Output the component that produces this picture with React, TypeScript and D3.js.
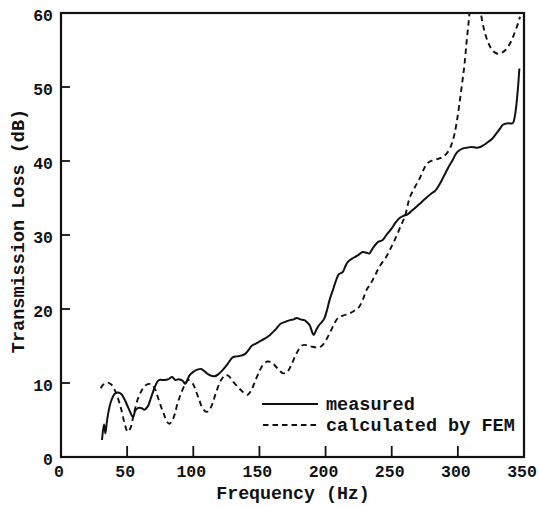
import React from "react";
import * as d3 from "d3";

const measuredFreq = [31, 32.5, 33.5, 34.5, 36, 38, 41, 45, 48, 51, 54.5, 56, 58, 61, 63, 65.5, 68, 71.5, 74, 78, 81, 84, 86.5, 89, 92, 94, 97, 100, 103, 106, 109, 112, 116, 119, 122, 126, 130, 133, 136, 139, 142, 144, 147, 150, 154, 158, 162, 166, 170, 173, 176, 178, 181, 184, 186, 188, 190, 191, 193, 195, 197, 199, 201, 203, 206, 208, 210, 213, 215, 217, 220, 224, 228, 231, 233, 236, 240, 243, 246, 250, 253, 256, 259, 262, 266, 271, 276, 280, 283, 286, 289, 293, 296, 298, 300, 304, 307, 310, 314, 317, 320, 323, 326, 329, 332, 334, 338, 341.5, 343, 344, 345.5, 346.5];
const measuredTL = [2.3, 4.4, 3.2, 4.5, 6.2, 7.6, 8.6, 8.6, 7.8, 6.6, 5.4, 6.2, 6.6, 6.6, 6.4, 6.8, 8.0, 9.7, 10.4, 10.4, 10.5, 10.8, 10.4, 10.5, 10.3, 9.9, 11.0, 11.5, 11.8, 11.9, 11.5, 11.1, 10.9, 11.2, 11.7, 12.6, 13.5, 13.6, 13.7, 13.9, 14.5, 15.0, 15.3, 15.6, 16.0, 16.5, 17.2, 18.0, 18.3, 18.5, 18.6, 18.8, 18.6, 18.5, 18.2, 17.8, 16.8, 16.5, 17.2, 17.8, 18.2, 18.7, 19.8, 21.2, 22.8, 23.9, 24.7, 25.0, 25.8, 26.4, 26.8, 27.2, 27.7, 27.6, 27.5, 28.3, 29.1, 29.3, 30.0, 30.9, 31.7, 32.3, 32.6, 32.8, 33.4, 34.2, 35.0, 35.6, 36.0, 36.8, 37.8, 39.2, 40.1, 40.8, 41.3, 41.7, 41.8, 41.9, 41.8, 41.9, 42.2, 42.6, 43.0, 43.7, 44.4, 44.9, 45.1, 45.1, 46, 47.2, 50, 52.5];

const calcFreq = [30, 32, 35, 38, 41, 45, 48, 50.5, 52.5, 55, 58, 61, 64, 68, 71, 73, 76, 78, 80, 82, 84, 86, 88, 91, 94, 96, 99.5, 102, 104.5, 107, 110, 112, 114.5, 117, 121, 124.5, 127, 130, 134, 137.5, 141, 143.5, 146, 149, 152.5, 156, 159, 162, 165, 168, 171, 174, 178, 182.5, 186, 190, 194, 197, 200, 203, 206, 209, 213, 218, 222, 225, 228, 231, 234, 237, 241, 246, 250, 253.5, 257, 260, 263.5, 267, 271, 274, 277, 281, 285, 288, 291, 294, 297, 299, 301, 303, 305, 306.5, 308, 309.5, 313, 316.5, 318.5, 320.5, 322.5, 324.5, 327, 330, 333, 336, 339.5, 342, 345.5, 347];
const calcTL = [9.3, 9.8, 10.05, 9.8, 8.9, 6.8, 4.6, 3.4, 3.9, 5.8, 7.8, 9.0, 9.7, 9.85, 9.2, 8.2, 6.6, 5.7, 4.8, 4.5, 4.9, 5.8, 7.2, 8.7, 9.9, 10.4, 9.95, 8.9, 7.7, 6.6, 6.1, 6.3, 7.2, 8.6, 10.4, 11.1, 10.9, 10.2, 9.4, 8.8, 8.4, 8.9, 9.9, 11.2, 12.4, 12.9, 12.8, 12.3, 11.7, 11.3, 11.5, 12.4, 14.0, 15.1, 15.1, 14.9, 14.8, 15.0, 15.7, 16.7, 17.8, 18.7, 19.1, 19.4, 19.8, 20.2, 21.2, 22.6, 23.4, 24.4, 25.8, 27.1, 28.5, 29.8, 31.3, 32.5, 35.0, 36.3, 37.6, 38.8, 39.7, 40.1, 40.3, 40.5, 40.9, 41.7, 43.3, 45.1, 47.5, 50.2, 53, 55.9, 58.5, 61, 64, 61, 58.8, 57.3, 56.2, 55.4, 54.8, 54.5, 54.6, 55.0, 55.9, 56.9, 58.6, 59.5];

const xTicks = [0, 50, 100, 150, 200, 250, 300, 350];
const yTicks = [0, 10, 20, 30, 40, 50, 60];
const legendLabels = ["measured", "calculated by FEM"];
const xTitle = "Frequency (Hz)";
const yTitle = "Transmission Loss (dB)";

const FONT = "'Liberation Mono', 'DejaVu Sans Mono', monospace";

export default function App() {
  const left = 61, right = 524, top = 13, bottom = 457;
  const x = d3.scaleLinear().domain([0, 350]).range([left, right]);
  const y = d3.scaleLinear().domain([0, 60]).range([bottom, top]);

  const line = d3
    .line<[number, number]>()
    .x((d) => x(d[0]))
    .y((d) => y(d[1]))
    .curve(d3.curveCatmullRom.alpha(0.5));

  const measured = measuredFreq.map((f, i) => [f, measuredTL[i]] as [number, number]);
  const calc = calcFreq.map((f, i) => [f, calcTL[i]] as [number, number]);

  return (
    <svg width={539} height={506} style={{ position: "absolute", left: 0, top: 0, background: "#fff" }}>
      <defs>
        <clipPath id="plot">
          <rect x={left} y={top} width={right - left} height={bottom - top} />
        </clipPath>
      </defs>
      <g clipPath="url(#plot)">
        <path d={line(calc) || ""} fill="none" stroke="#111" strokeWidth={1.9} strokeDasharray="5.5,4" />
        <path d={line(measured) || ""} fill="none" stroke="#111" strokeWidth={2} />
      </g>
      <rect x={left} y={top} width={right - left} height={bottom - top} fill="none" stroke="#111" strokeWidth={2.2} />
      {yTicks.filter((t) => t > 0 && t < 60).map((t) => (
        <line key={"yt" + t} x1={left} x2={left + 9} y1={y(t)} y2={y(t)} stroke="#111" strokeWidth={1.8} />
      ))}
      {xTicks.filter((t) => t > 0 && t < 350).map((t) => (
        <line key={"xt" + t} x1={x(t)} x2={x(t)} y1={bottom} y2={bottom - 11} stroke="#111" strokeWidth={1.8} />
      ))}
      {yTicks.map((t) => (
        <text key={"yl" + t} x={53} y={y(t) + 8} textAnchor="end" fontFamily={FONT} fontWeight="bold" fontSize={16.5} fill="#111">
          {t}
        </text>
      ))}
      {xTicks.map((t) => (
        <text key={"xl" + t} x={x(t) - 2} y={477} textAnchor="middle" fontFamily={FONT} fontWeight="bold" fontSize={16.5} fill="#111">
          {t}
        </text>
      ))}
      <text x={293} y={499} textAnchor="middle" fontFamily={FONT} fontWeight="bold" fontSize={18.3} fill="#111">
        {xTitle}
      </text>
      <text
        transform={`translate(24,231) rotate(-90)`}
        textAnchor="middle"
        fontFamily={FONT}
        fontWeight="bold"
        fontSize={18.5}
        fill="#111"
      >
        {yTitle}
      </text>
      <line x1={262} x2={318} y1={404} y2={404} stroke="#111" strokeWidth={2} />
      <line x1={263} x2={318} y1={425} y2={425} stroke="#111" strokeWidth={1.9} strokeDasharray="5.5,4" />
      <text x={326} y={410} fontFamily={FONT} fontWeight="bold" fontSize={18.5} fill="#111">
        {legendLabels[0]}
      </text>
      <text x={326} y={431} fontFamily={FONT} fontWeight="bold" fontSize={18.5} fill="#111">
        {legendLabels[1]}
      </text>
    </svg>
  );
}
